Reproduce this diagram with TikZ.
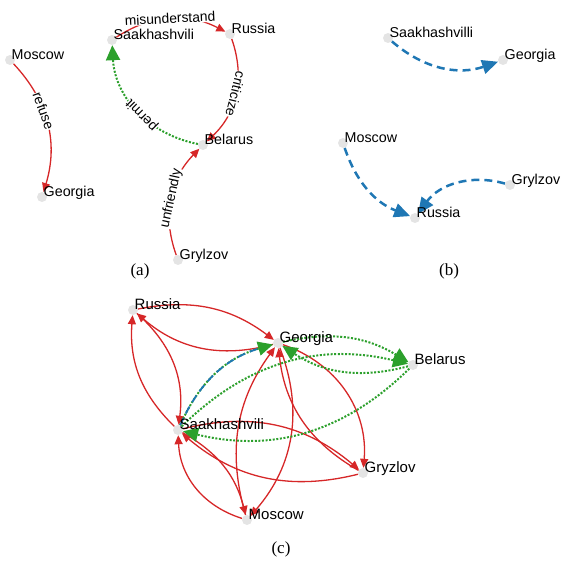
\documentclass[tikz,border=0pt]{standalone}
\usepackage{fontspec}
\setmainfont{Liberation Serif}
\setsansfont{Liberation Sans}
\usepackage{tikz}
\usetikzlibrary{arrows.meta}

\definecolor{hatered}{HTML}{D62728}
\definecolor{helpgreen}{HTML}{2CA02C}
\definecolor{actblue}{HTML}{1F77B4}
\definecolor{dotgray}{HTML}{E4E4E4}

\begin{document}
\begin{tikzpicture}[x=1pt,y=-1pt,allow upside down,
    dot/.style={circle,fill=dotgray,inner sep=0pt,minimum size=10pt},
    who/.style={anchor=base west,inner sep=0pt,xshift=1.5pt,yshift=1pt,
      font=\sffamily\fontsize{14.3}{16}\selectfont},
    bigwho/.style={who,font=\sffamily\fontsize{15}{17}\selectfont},
    hate/.style={hatered,line width=1.3pt,-{Triangle[length=9pt,width=8pt]}},
    help/.style={helpgreen,line width=2pt,dash pattern=on 2pt off 1.6pt,
      -{Triangle[length=15pt,width=14pt]}},
    act/.style={actblue,line width=2.5pt,dash pattern=on 8pt off 5pt,
      -{Triangle[length=16pt,width=14pt]}},
    verb/.style={sloped,fill=white,text=black,inner sep=0.5pt,
      font=\sffamily\fontsize{13.8}{15}\selectfont},
    capt/.style={font=\fontsize{17}{19}\selectfont}]
  \useasboundingbox (0,0) rectangle (563,562);

  % (a)
  \node[dot] (aMos) at (10,60) {};
  \node[dot] (aGeo) at (42,197) {};
  \node[dot] (aSaa) at (112,40) {};
  \node[dot] (aRus) at (230,34) {};
  \node[dot] (aBel) at (203,145) {};
  \node[dot] (aGry) at (178,260) {};

  \draw[hate] (aMos) to[bend left=30] node[verb,pos=0.4] {refuse} (aGeo);
  \draw[hate] (aSaa) to[bend left=30] node[verb] {misunderstand} (aRus);
  \draw[hate] (aRus) to[bend left=33] node[verb] {criticize} (aBel);
  \draw[hate] (aGry) to[bend left=32] node[verb] {unfriendly} (aBel);
  \draw[help] (aBel) to[bend left=38] node[verb,pos=0.45] {permit} (aSaa);

  \node[who] at (aMos.center) {Moscow};
  \node[who] at (aGeo.center) {Georgia};
  \node[who] at (aSaa.center) {Saakhashvili};
  \node[who] at (aRus.center) {Russia};
  \node[who] at (aBel.center) {Belarus};
  \node[who] at (aGry.center) {Grylzov};
  \node[capt] (capA) at (140,271) {(a)};

  % (b)
  \node[dot] (bSaa) at (388,38) {};
  \node[dot] (bGeo) at (503,60) {};
  \node[dot] (bMos) at (343,143) {};
  \node[dot] (bRus) at (415,218) {};
  \node[dot] (bGry) at (510,185) {};

  \draw[act] (bSaa) to[bend right=30] (bGeo);
  \draw[act] (bMos) to[bend right=25] (bRus);
  \draw[act] (bGry) to[bend right=35] (bRus);

  \node[who] at (bSaa.center) {Saakhashvilli};
  \node[who] at (bGeo.center) {Georgia};
  \node[who] at (bMos.center) {Moscow};
  \node[who] at (bRus.center) {Russia};
  \node[who] at (bGry.center) {Grylzov};
  \node[capt] (capB) at (449,271) {(b)};

  % (c)
  \node[dot] (cRus) at (133,310) {};
  \node[dot] (cGeo) at (278,343) {};
  \node[dot] (cBel) at (413,365) {};
  \node[dot] (cSaa) at (178,430) {};
  \node[dot] (cGry) at (363,473) {};
  \node[dot] (cMos) at (247,520) {};

  \draw[hate] (cRus) to[bend left=24] (cGeo);
  \draw[hate] (cGeo) to[bend left=28] (cRus);
  \draw[hate] (cSaa) to[bend left=25] (cRus);
  \draw[hate] (cRus) to[bend left=28] (cSaa);
  \draw[hate] (cMos) to[bend left=26] (cGeo);
  \draw[hate] (cGeo) to[bend left=31] (cMos);
  \draw[hate] (cGeo) to[bend left=38] (cGry);
  \draw[hate] (cGry) to[bend left=27] (cGeo);
  \draw[hate] (cSaa) to[bend left=27] (cGry);
  \draw[hate] (cGry) to[bend left=27] (cSaa);
  \draw[hate] (cSaa) to[bend left=23] (cMos);
  \draw[hate] (cMos) to[bend left=35] (cSaa);

  \draw[help] (cGeo) to[bend left=22] (cBel);
  \draw[help] (cBel) to[bend left=24] (cGeo);
  \draw[help] (cSaa) to[bend left=29] (cBel);
  \draw[help] (cBel) to[bend left=29] (cSaa);
  \draw[help] (cSaa) to[bend left=25] (cGeo);
  \draw[act,line width=1.8pt,arrows=-,shorten >=13pt] (cSaa) to[bend left=25] (cGeo);

  \node[bigwho] at (cRus.center) {Russia};
  \node[bigwho] at (cGeo.center) {Georgia};
  \node[bigwho] at (cBel.center) {Belarus};
  \node[bigwho] at (cSaa.center) {Saakhashvili};
  \node[bigwho] at (cGry.center) {Gryzlov};
  \node[bigwho] at (cMos.center) {Moscow};
  \node[capt] (capC) at (281,549) {(c)};
\end{tikzpicture}
\end{document}
